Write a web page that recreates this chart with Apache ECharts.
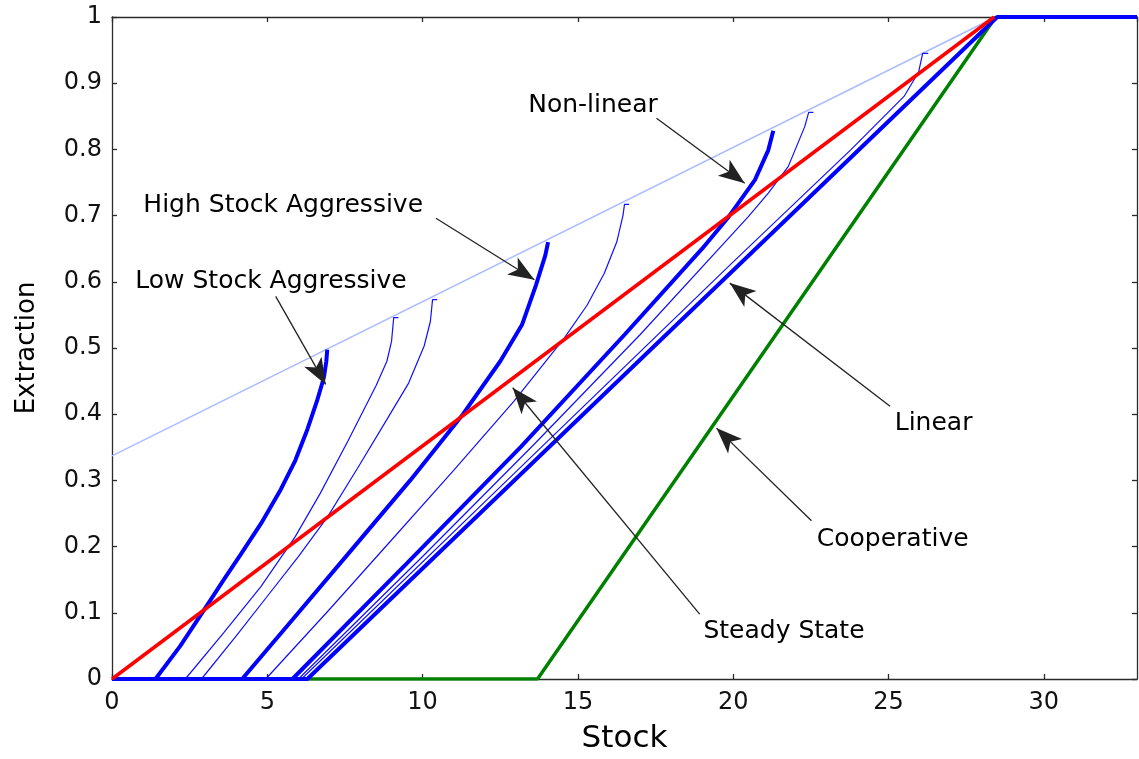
<!DOCTYPE html>
<html>
<head>
<meta charset="utf-8">
<script src="https://cdn.jsdelivr.net/npm/echarts@6/dist/echarts.min.js"></script>
<style>
  html, body { margin: 0; padding: 0; background: #ffffff; }
  #chart { width: 1139px; height: 759px; }
</style>
</head>
<body>
<div id="chart"></div>
<script>
// Each curve is a list of [stock, extraction] pairs.
const upperBound = [[0, 0.337], [28.45, 1]];

const lowStockAggressive = [[0, 0], [1.40, 0], [2.2, 0.05], [2.96, 0.104], [3.6, 0.15], [4.14, 0.188],
  [4.8, 0.235], [5.43, 0.286], [5.9, 0.33], [6.29, 0.377], [6.6, 0.42], [6.82, 0.455], [6.9, 0.48], [6.93, 0.4975]];
const branchB = [[0, 0], [2.36, 0], [3.6, 0.07], [4.8, 0.14], [5.9, 0.215], [6.7, 0.28], [7.6, 0.36],
  [8.5, 0.443], [8.85, 0.48], [9.0, 0.51], [9.07, 0.546], [9.22, 0.546]];
const branchC = [[0, 0], [2.88, 0], [4.0, 0.065], [5.0, 0.125], [6.0, 0.185], [6.94, 0.245], [7.9, 0.318],
  [8.76, 0.385], [9.55, 0.447], [10.05, 0.503], [10.25, 0.54], [10.32, 0.573], [10.47, 0.573]];
const highStockAggressive = [[0, 0], [4.19, 0], [6, 0.1], [7.8, 0.2], [9.6, 0.3], [11.3, 0.4], [12.5, 0.48],
  [13.2, 0.535], [13.65, 0.595], [13.95, 0.64], [14.04, 0.66]];
const branchE = [[0, 0], [4.95, 0], [7, 0.105], [9, 0.21], [11, 0.315], [12.95, 0.42], [14.56, 0.515],
  [15.3, 0.565], [15.85, 0.613], [16.25, 0.66], [16.45, 0.7], [16.5, 0.717], [16.65, 0.717]];
const nonLinear = [[0, 0], [5.81, 0], [9.5, 0.175], [13.17, 0.351], [16.5, 0.52], [19.0, 0.65],
  [19.85, 0.698], [20.7, 0.754], [21.13, 0.799], [21.29, 0.828]];
const branchG = [[0, 0], [6.0, 0], [10, 0.185], [13.6, 0.355], [17, 0.52], [20.48, 0.698], [21.13, 0.734],
  [21.77, 0.774], [22.3, 0.834], [22.43, 0.856], [22.58, 0.856]];
const branchH = [[0, 0], [6.1, 0], [13.6, 0.34], [20, 0.63], [23.8, 0.80], [25.5, 0.88], [25.97, 0.917],
  [26.1, 0.945], [26.28, 0.945]];
const linear = [[0, 0], [6.29, 0], [28.5, 1], [33, 1]];
const steadyState = [[0, 0], [28.4, 1]];
const cooperative = [[0, 0], [13.7, 0], [28.45, 1]];

// Annotation texts with their anchor points and arrows (tail -> head)
const noteTexts = ['Low Stock Aggressive', 'High Stock Aggressive', 'Non-linear', 'Linear', 'Cooperative', 'Steady State'];
const notePositions = [[0.75, 0.600], [1.01, 0.716], [13.4, 0.867], [25.2, 0.386], [22.69, 0.211], [19.04, 0.072]];
const arrowTails = [[5.27, 0.578], [10.43, 0.696], [17.53, 0.847], [25.05, 0.412], [22.52, 0.239], [18.92, 0.098]];
const arrowHeads = [[6.88, 0.445], [13.6, 0.603], [20.37, 0.749], [19.89, 0.598], [19.46, 0.379], [12.9, 0.44]];

const xTicks = { min: 0, max: 33, interval: 5 };
const yTicks = { min: 0, max: 1, interval: 0.1 };

const FONT = 'DejaVu Sans';
const AXIS_COLOR = '#2b2b2b';

function curve(data, color, width, z) {
  return {
    type: 'line', data: data, showSymbol: false, symbol: 'none', silent: true,
    lineStyle: { color: color, width: width }, z: z, animation: false
  };
}

const chart = echarts.init(document.getElementById('chart'), null, { renderer: 'canvas' });

const axisCommon = {
  axisLine: { show: true, onZero: false, lineStyle: { color: AXIS_COLOR, width: 1.3 } },
  axisTick: { show: true, inside: true, length: 5, lineStyle: { color: AXIS_COLOR, width: 1.3 } },
  splitLine: { show: false }
};

chart.setOption({
  animation: false,
  backgroundColor: '#ffffff',
  grid: { left: 112, right: 2, top: 17, bottom: 79, containLabel: false },
  xAxis: [
    Object.assign({
      type: 'value', position: 'bottom', min: xTicks.min, max: xTicks.max, interval: xTicks.interval,
      name: 'Stock', nameLocation: 'middle', nameGap: 44,
      nameTextStyle: { fontFamily: FONT, fontSize: 31, color: '#000' },
      axisLabel: { fontFamily: FONT, fontSize: 24, color: '#111', margin: 12, showMaxLabel: false }
    }, axisCommon),
    Object.assign({
      type: 'value', position: 'top', min: xTicks.min, max: xTicks.max, interval: xTicks.interval,
      axisLabel: { show: false }
    }, axisCommon)
  ],
  yAxis: [
    Object.assign({
      type: 'value', position: 'left', min: yTicks.min, max: yTicks.max, interval: yTicks.interval,
      name: 'Extraction', nameLocation: 'middle', nameGap: 72,
      nameTextStyle: { fontFamily: FONT, fontSize: 26, color: '#000' },
      axisLabel: { fontFamily: FONT, fontSize: 24, color: '#111', margin: 10 }
    }, axisCommon),
    Object.assign({
      type: 'value', position: 'right', min: yTicks.min, max: yTicks.max, interval: yTicks.interval,
      axisLabel: { show: false }
    }, axisCommon)
  ],
  series: [
    curve(upperBound, '#a9bcff', 1.5, 1),
    curve(cooperative, '#008000', 3.5, 2),
    curve(branchB, '#1010ff', 1.2, 3),
    curve(branchC, '#1010ff', 1.2, 3),
    curve(branchE, '#1010ff', 1.2, 3),
    curve(branchG, '#1010ff', 1.2, 3),
    curve(branchH, '#1010ff', 1.2, 3),
    curve(lowStockAggressive, '#0000ff', 4, 4),
    curve(highStockAggressive, '#0000ff', 4, 4),
    curve(nonLinear, '#0000ff', 4, 4),
    curve(linear, '#0000ff', 4, 4),
    curve(steadyState, '#ff0000', 3.5, 5),
    {
      type: 'scatter', silent: true, z: 6, symbolSize: 0, animation: false,
      itemStyle: { color: '#000', opacity: 1 },
      data: notePositions.map((p, i) => ({ value: p, name: noteTexts[i] })),
      label: {
        show: true, position: 'right', distance: 0, formatter: '{b}',
        fontFamily: FONT, fontSize: 25, color: '#000', opacity: 1
      }
    },
    {
      type: 'line', data: [], silent: true, z: 7, animation: false,
      markLine: {
        silent: true, animation: false,
        symbol: ['none', 'arrow'], symbolSize: [15, 26],
        label: { show: false },
        lineStyle: { color: '#222', width: 1.3, type: 'solid', opacity: 1 },
        itemStyle: { color: '#000' },
        emphasis: { disabled: true },
        data: arrowTails.map((t, i) => [{ coord: t }, { coord: arrowHeads[i] }])
      }
    }
  ]
});
</script>
</body>
</html>
